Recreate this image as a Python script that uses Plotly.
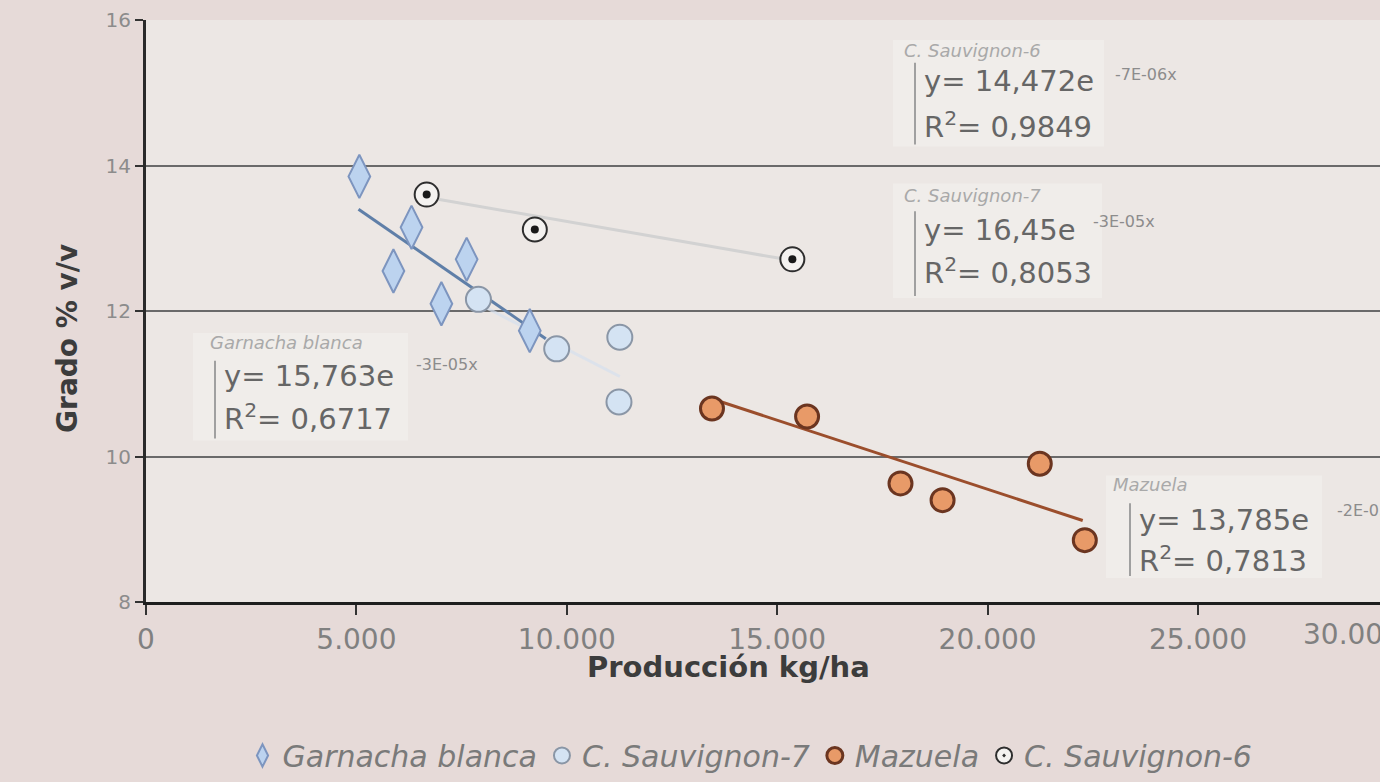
import plotly.graph_objects as go

# puntos (kg/ha, grado % v/v)
garnacha_x = [5070, 5880, 6310, 7020, 7620, 9120]
garnacha_y = [13.85, 12.55, 13.15, 12.10, 12.71, 11.73]
sauv7_x = [7900, 9760, 11260, 11240]
sauv7_y = [12.16, 11.48, 11.64, 10.75]
mazuela_x = [13450, 15710, 17930, 18930, 21240, 22310]
mazuela_y = [10.66, 10.55, 9.63, 9.40, 9.90, 8.85]
sauv6_x = [6670, 9240, 15360]
sauv6_y = [13.60, 13.12, 12.71]

# extremos de las líneas de tendencia
garnacha_trend_x = [5050, 9500]
garnacha_trend_y = [13.40, 11.62]
sauv7_trend_x = [7900, 11260]
sauv7_trend_y = [12.10, 11.10]
mazuela_trend_x = [13570, 22260]
mazuela_trend_y = [10.77, 9.12]
sauv6_trend_x = [6700, 15300]
sauv6_trend_y = [13.56, 12.70]

fit_names = ["C. Sauvignon-6", "C. Sauvignon-7", "Garnacha blanca", "Mazuela"]
fit_coef = ["14,472", "16,45", "15,763", "13,785"]
fit_exp = ["-7E-06x", "-3E-05x", "-3E-05x", "-2E-05x"]
fit_r2 = ["0,9849", "0,8053", "0,6717", "0,7813"]

W, H = 1380, 782
L, R, T, B = 146, 0, 20, 178
PW, PH = W - L - R, H - T - B


def px(x):
    return (x - L) / PW


def py(y):
    return (H - B - y) / PH


FONT = "DejaVu Sans"


def note(text, x, y, size, color, xanchor="center", **kw):
    return dict(text=text, xref="paper", yref="paper", x=px(x), y=py(y),
                xanchor=xanchor, yanchor="middle", showarrow=False,
                font=dict(family=FONT, size=size, color=color, **kw.pop("font", {})), **kw)


fig = go.Figure()

# tendencias
fig.add_trace(go.Scatter(x=sauv6_trend_x, y=sauv6_trend_y, mode="lines",
                         line=dict(color="#d2d2d2", width=3), showlegend=False, hoverinfo="skip"))
fig.add_trace(go.Scatter(x=sauv7_trend_x, y=sauv7_trend_y, mode="lines",
                         line=dict(color="rgba(214,224,238,0.7)", width=3), showlegend=False, hoverinfo="skip"))
fig.add_trace(go.Scatter(x=garnacha_trend_x, y=garnacha_trend_y, mode="lines",
                         line=dict(color="#5f7fa8", width=3), showlegend=False, hoverinfo="skip"))
fig.add_trace(go.Scatter(x=mazuela_trend_x, y=mazuela_trend_y, mode="lines",
                         line=dict(color="#9b4e2c", width=3), showlegend=False, hoverinfo="skip"))

# series
fig.add_trace(go.Scatter(
    x=garnacha_x, y=garnacha_y, mode="markers", name="Garnacha blanca",
    marker=dict(symbol="diamond-tall", size=31, color="#bcd3ef",
                line=dict(color="#7d95bf", width=2)),
))
fig.add_trace(go.Scatter(
    x=sauv7_x, y=sauv7_y, mode="markers", name="C. Sauvignon-7",
    marker=dict(symbol="circle", size=25, color="#d4e3f3",
                line=dict(color="#8a96a6", width=2)),
))
fig.add_trace(go.Scatter(
    x=mazuela_x, y=mazuela_y, mode="markers", name="Mazuela",
    marker=dict(symbol="circle", size=23, color="#e89a68",
                line=dict(color="#6b3520", width=3)),
))
fig.add_trace(go.Scatter(
    x=sauv6_x, y=sauv6_y, mode="markers", name="C. Sauvignon-6",
    marker=dict(symbol="circle-dot", size=24, color="#f4f2f0",
                line=dict(color="#2e2e2e", width=2)),
))
# punto central de C. Sauvignon-6
fig.add_trace(go.Scatter(
    x=sauv6_x, y=sauv6_y, mode="markers", showlegend=False, hoverinfo="skip",
    marker=dict(symbol="circle", size=8, color="#1a1a1a"),
))

# bloques de ecuaciones (posiciones en píxeles)
blocks = [
    dict(lab=(972, 51), tx=922, ey=81, ry=125, ex=(1146, 75), bar=(915, 63, 145), box=(893, 40, 1104, 147)),
    dict(lab=(972, 196), tx=922, ey=231, ry=272, ex=(1124, 222), bar=(915, 212, 297), box=(893, 184, 1102, 299)),
    dict(lab=(286, 344), tx=222, ey=377, ry=418, ex=(447, 366), bar=(215, 362, 440), box=(193, 334, 408, 442)),
    dict(lab=(1150, 486), tx=1137, ey=522, ry=561, ex=(1368, 512), bar=(1130, 505, 578), box=(1106, 477, 1322, 580)),
]

shapes = []
annotations = []
for i, b in enumerate(blocks):
    x0, y0, x1, y1 = b["box"]
    shapes.append(dict(type="rect", xref="paper", yref="paper",
                       x0=px(x0), x1=px(x1), y0=py(y1), y1=py(y0),
                       fillcolor="rgba(246,244,242,0.45)", line=dict(width=0), layer="below"))
    bx, by0, by1 = b["bar"]
    shapes.append(dict(type="line", xref="paper", yref="paper",
                       x0=px(bx), x1=px(bx), y0=py(by0), y1=py(by1),
                       line=dict(color="#a0a0a0", width=2)))
    annotations.append(note(fit_names[i], b["lab"][0], b["lab"][1], 18, "#a9a9a9",
                            font=dict(style="italic")))
    annotations.append(note("y= " + fit_coef[i] + "e", b["tx"], b["ey"], 29, "#666666", xanchor="left"))
    annotations.append(note("R<sup>2</sup>= " + fit_r2[i], b["tx"], b["ry"], 29, "#666666", xanchor="left"))
    annotations.append(note(fit_exp[i], b["ex"][0], b["ex"][1], 16, "#8c8c8c"))

# títulos de ejes y etiqueta cortada del 30.000
annotations.append(note("<b>Producción kg/ha</b>", 728, 669, 29, "#3c3c3c"))
annotations.append(note("<b>Grado % v/v</b>", 68, 340, 28, "#3c3c3c", textangle=-90))
annotations.append(note("30.000", 1352, 637, 28, "#808080"))

fig.update_layout(
    width=W, height=H,
    margin=dict(l=L, r=R, t=T, b=B),
    paper_bgcolor="#e6dad8",
    plot_bgcolor="#ece7e4",
    separators=",.",
    showlegend=True,
    legend=dict(
        orientation="h", x=px(750), y=py(758), xanchor="center", yanchor="middle",
        font=dict(family=FONT, size=30, color="#7a7a7a", style="italic"),
        bgcolor="rgba(0,0,0,0)", itemwidth=30, traceorder="normal",
    ),
    shapes=shapes,
    annotations=annotations,
)

fig.update_xaxes(
    range=[0, 29325], dtick=5000, tick0=0, tickformat=",", separatethousands=True,
    showgrid=False, zeroline=False,
    showline=True, linecolor="#1e1e1e", linewidth=3,
    ticks="outside", ticklen=10, tickwidth=2, tickcolor="#333333",
    tickfont=dict(family=FONT, size=28, color="#808080"),
)
fig.update_yaxes(
    range=[8, 16], dtick=2, tick0=8,
    showgrid=True, gridcolor="#6a6a6a", gridwidth=2, zeroline=False,
    showline=True, linecolor="#2a2a2a", linewidth=3,
    ticks="outside", ticklen=8, tickwidth=2, tickcolor="#333333",
    tickfont=dict(family=FONT, size=20, color="#8c8c8c"),
)

fig.write_html(
    "out.html",
    config={"displayModeBar": False},
    post_script="document.body.style.margin='0';document.body.style.overflow='hidden';",
)
